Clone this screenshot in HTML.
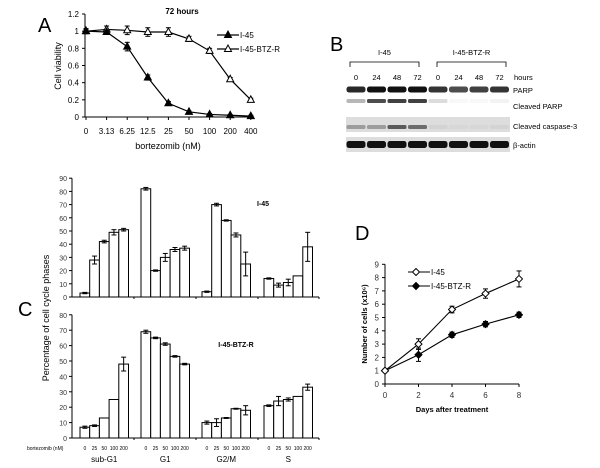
<!DOCTYPE html>
<html><head><meta charset="utf-8"><style>
html,body{margin:0;padding:0;background:#fff;}
svg{display:block;font-family:"Liberation Sans",Arial,sans-serif;}
</style></head><body>
<svg id="fig" width="600" height="468" viewBox="0 0 600 468">
<g id="A"></g>
<g id="B"></g>
<g id="C"></g>
<g id="D"></g>
</svg>
<script>
// Panel A data
const aCats = ["0","3.13","6.25","12.5","25","50","100","200","400"];
const aI45 = [1,0.99,0.82,0.46,0.16,0.06,0.03,0.02,0.01];
const aI45Err = [0.02,0.02,0.05,0.03,0.02,0.01,0.01,0.01,0.01];
const aBTZ = [1,1.02,1.01,0.99,0.99,0.91,0.77,0.44,0.2];
const aBTZErr = [0.03,0.04,0.05,0.05,0.05,0.03,0.03,0.02,0.02];
const aTicks = ["0","0.2","0.4","0.6","0.8","1","1.2"];
// Panel C data
const cPhases = ["sub-G1","G1","G2/M","S"];
const cDoses = ["0","25","50","100","200"];
const cTopVals = [[3,28,42,49,51],[82,20,30,36,37],[4,70,58,47,25],[14,9,11,16,38]];
const cTopErr = [[0.5,3,1,2,1],[1,0.5,3,1.5,1.5],[0.5,1,0.5,1.5,9],[0.5,1.5,2.5,0,11]];
const cBotVals = [[7,8,13,25,48],[69,65,61,53,48],[10,10,13,19,18],[21,24,25,27,33]];
const cBotErr = [[0.7,0.5,0,0,4.5],[1,0.5,0.8,0.5,0.5],[1,2.5,0.3,0.3,3],[0.5,3,1,0,2]];
const cTopTicks = ["0","10","20","30","40","50","60","70","80","90"];
const cBotTicks = ["0","10","20","30","40","50","60","70","80"];
// Panel D data
const dDays = [0,2,4,6,8];
const dI45 = [1,3,5.6,6.8,7.9];
const dI45Err = [0.1,0.4,0.25,0.35,0.6];
const dBTZ = [1,2.2,3.7,4.5,5.2];
const dBTZErr = [0.1,0.5,0.2,0.2,0.2];
const dTicks = ["0","1","2","3","4","5","6","7","8","9"];

const NS="http://www.w3.org/2000/svg";
function el(p,t,a,txt){const e=document.createElementNS(NS,t);for(const k in a)e.setAttribute(k,a[k]);if(txt!==undefined)e.textContent=txt;p.appendChild(e);return e;}

// ---------- Panel A ----------
(function(){
const g=document.getElementById('A');
const x0=86,dx=20.6,yb=117,yt=14;
const X=i=>x0+i*dx, Y=v=>yb-(v/1.2)*(yb-yt);
let t=el(g,'text',{x:38,y:32,'font-size':20},'A');


el(g,'line',{x1:85,y1:yt,x2:85,y2:yb,stroke:'#000'});
el(g,'line',{x1:85,y1:yb,x2:254,y2:yb,stroke:'#000'});
aTicks.forEach((s,i)=>{const y=Y(+s);el(g,'line',{x1:82,y1:y,x2:85,y2:y,stroke:'#000'});
 t=el(g,'text',{x:79,y:y+3,'font-size':8,'text-anchor':'end'},s);
 
 });
aCats.forEach((s,i)=>{el(g,'line',{x1:X(i),y1:yb,x2:X(i),y2:yb+3,stroke:'#000'});
 t=el(g,'text',{x:X(i),y:134,'font-size':8,'text-anchor':'middle'},s);
 
 });
t=el(g,'text',{x:168,y:149,'font-size':9,'text-anchor':'middle'},'bortezomib (nM)');


t=el(g,'text',{x:61,y:66,'font-size':9,'text-anchor':'middle',transform:'rotate(-90 61 66)'},'Cell viability');


t=el(g,'text',{x:182,y:14,'font-size':8,'font-weight':'bold','text-anchor':'middle'},'72 hours');


function series(vals,errs,filled,name){
 el(g,'polyline',{points:vals.map((v,i)=>X(i)+','+Y(v)).join(' '),fill:'none',stroke:'#000','stroke-width':1.2});
 vals.forEach((v,i)=>{const x=X(i);
  el(g,'line',{x1:x,y1:Y(v+errs[i]),x2:x,y2:Y(v-errs[i]),stroke:'#000'});
  el(g,'line',{x1:x-2.5,y1:Y(v+errs[i]),x2:x+2.5,y2:Y(v+errs[i]),stroke:'#000'});
  el(g,'line',{x1:x-2.5,y1:Y(v-errs[i]),x2:x+2.5,y2:Y(v-errs[i]),stroke:'#000'});
  const p=el(g,'polygon',{points:`${x},${Y(v)-4} ${x-3.5},${Y(v)+2.5} ${x+3.5},${Y(v)+2.5}`,fill:filled?'#000':'#fff',stroke:'#000'});
  
  });
}
series(aBTZ,aBTZErr,false,'i45-btzr');
series(aI45,aI45Err,true,'i45');
[[35,true,'I-45'],[49,false,'I-45-BTZ-R']].forEach(([y,f,s])=>{
 el(g,'line',{x1:217,y1:y,x2:239,y2:y,stroke:'#000','stroke-width':1.2});
 el(g,'polygon',{points:`228,${y-4} 224.5,${y+2.5} 231.5,${y+2.5}`,fill:f?'#000':'#fff',stroke:'#000'});
 t=el(g,'text',{x:240,y:y+3,'font-size':8},s);
 
 });
})();

// ---------- Panel B ----------
(function(){
const g=document.getElementById('B');
let t=el(g,'text',{x:330,y:51,'font-size':20},'B');


[[350,419,'I-45'],[437,506,'I-45-BTZ-R']].forEach(([a,b,s])=>{
 el(g,'path',{d:`M${a},67 V62 H${b} V67`,fill:'none',stroke:'#000','stroke-width':0.8});
 t=el(g,'text',{x:(a+b)/2,y:55,'font-size':7.5,'text-anchor':'middle'},s);
 
 });
const lanes=[356,376.5,397,417.5,438,458.5,479,499.5];
const hrs=["0","24","48","72","0","24","48","72"];
lanes.forEach((x,i)=>{t=el(g,'text',{x:x,y:80,'font-size':7.5,'text-anchor':'middle'},hrs[i]);
 
 });
t=el(g,'text',{x:514,y:80,'font-size':7.5},'hours');


el(g,'rect',{x:346,y:117,width:164,height:15,fill:'#ddd'});
el(g,'rect',{x:346,y:137,width:164,height:15,fill:'#ddd'});
const parp=[0.9,1,1,1,0.85,0.75,0.8,0.85];
const cparp=[0.3,0.75,0.8,0.8,0.15,0.03,0.03,0.05];
const casp=[0.35,0.35,0.7,0.6,0.05,0.03,0.03,0.05];
lanes.forEach((x,i)=>{
 el(g,'rect',{x:x-9.5,y:86.5,width:19,height:6,rx:2.5,fill:'#111','fill-opacity':parp[i]});
 el(g,'rect',{x:x-9.5,y:99,width:19,height:4,rx:1.5,fill:'#111','fill-opacity':cparp[i]});
 el(g,'rect',{x:x-9.5,y:125,width:19,height:4,rx:1.5,fill:'#222','fill-opacity':casp[i]});
 el(g,'rect',{x:x-9.5,y:141,width:19,height:7,rx:2.5,fill:'#111'});
});
[['PARP',93],['Cleaved PARP',109],['Cleaved caspase-3',129],['β-actin',148]].forEach(([s,y])=>{
 t=el(g,'text',{x:513,y:y,'font-size':7.5},s);
 
 });
})();

// ---------- Panel C ----------
(function(){
const g=document.getElementById('C');
let t=el(g,'text',{x:18,y:316,'font-size':20},'C');


const bw=9.7, starts=[80,141,202,264];
function chart(vals,errs,ticks,yb,unit,label,lx,ly,nm){
 const Y=v=>yb-v*unit;
 const top=Y(+ticks[ticks.length-1]);
 el(g,'line',{x1:72,y1:top,x2:72,y2:yb,stroke:'#000'});
 el(g,'line',{x1:72,y1:yb,x2:319,y2:yb,stroke:'#000'});
 ticks.forEach(s=>{const y=Y(+s);el(g,'line',{x1:69,y1:y,x2:72,y2:y,stroke:'#000'});
  t=el(g,'text',{x:67,y:y+3,'font-size':7,'text-anchor':'end',fill:'#333'},s);
  
  });
 [134,196,258,319].forEach(x=>el(g,'line',{x1:x,y1:yb,x2:x,y2:yb+2,stroke:'#000'}));
 vals.forEach((grp,gi)=>grp.forEach((v,i)=>{
  const x=starts[gi]+i*bw;
  const r=el(g,'rect',{x:x,y:Y(v),width:bw,height:v*unit,fill:'#fff',stroke:'#000','stroke-width':1});
  
  
  const e=errs[gi][i];
  if(e>0){const cx=x+bw/2;
   el(g,'line',{x1:cx,y1:Y(v+e),x2:cx,y2:Y(v-e),stroke:'#000'});
   el(g,'line',{x1:cx-2.5,y1:Y(v+e),x2:cx+2.5,y2:Y(v+e),stroke:'#000'});
   el(g,'line',{x1:cx-2.5,y1:Y(v-e),x2:cx+2.5,y2:Y(v-e),stroke:'#000'});}
 }));
 t=el(g,'text',{x:lx,y:ly,'font-size':7,'font-weight':'bold','text-anchor':'middle'},label);
 
 
}
chart(cTopVals,cTopErr,cTopTicks,297,1.32,'I-45',263,206,'i45');
chart(cBotVals,cBotErr,cBotTicks,438,1.54,'I-45-BTZ-R',236,347,'i45-btzr');
t=el(g,'text',{x:49,y:318,'font-size':9,'text-anchor':'middle',transform:'rotate(-90 49 318)'},'Percentage of cell cycle phases');


t=el(g,'text',{x:27,y:450,'font-size':5}, 'bortezomib (nM)');


starts.forEach((s,gi)=>{
 cDoses.forEach((d,i)=>{t=el(g,'text',{x:s+i*bw+bw/2,y:450,'font-size':5,'text-anchor':'middle'},d);
  
  });
 t=el(g,'text',{x:s+2.5*bw,y:462,'font-size':8,'text-anchor':'middle'},cPhases[gi]);
 
 
});
})();

// ---------- Panel D ----------
(function(){
const g=document.getElementById('D');
let t=el(g,'text',{x:355,y:240,'font-size':20},'D');


const X=d=>385+d*16.75, Y=v=>384-v*13.3;
el(g,'line',{x1:385,y1:Y(9),x2:385,y2:384,stroke:'#000'});
el(g,'line',{x1:385,y1:384,x2:519,y2:384,stroke:'#000'});
dTicks.forEach(s=>{const y=Y(+s);el(g,'line',{x1:382,y1:y,x2:385,y2:y,stroke:'#000'});
 t=el(g,'text',{x:379,y:y+3,'font-size':8,'text-anchor':'end',fill:'#333'},s);
 
 });
dDays.forEach(d=>{el(g,'line',{x1:X(d),y1:384,x2:X(d),y2:387,stroke:'#000'});
 t=el(g,'text',{x:X(d),y:398,'font-size':8,'text-anchor':'middle',fill:'#333'},String(d));
 
 });
t=el(g,'text',{x:452,y:412,'font-size':7.5,'font-weight':'bold','text-anchor':'middle'},'Days after treatment');


t=el(g,'text',{x:367,y:324,'font-size':7.5,'font-weight':'bold','text-anchor':'middle',transform:'rotate(-90 367 324)'},'Number of cells (x10⁶)');


function series(vals,errs,filled,nm){
 el(g,'polyline',{points:vals.map((v,i)=>X(dDays[i])+','+Y(v)).join(' '),fill:'none',stroke:'#000','stroke-width':1.1});
 vals.forEach((v,i)=>{const x=X(dDays[i]),e=errs[i];
  el(g,'line',{x1:x,y1:Y(v+e),x2:x,y2:Y(v-e),stroke:'#000'});
  el(g,'line',{x1:x-2.5,y1:Y(v+e),x2:x+2.5,y2:Y(v+e),stroke:'#000'});
  el(g,'line',{x1:x-2.5,y1:Y(v-e),x2:x+2.5,y2:Y(v-e),stroke:'#000'});
  const y=Y(v);
  const p=el(g,'polygon',{points:`${x},${y-3.5} ${x+3.5},${y} ${x},${y+3.5} ${x-3.5},${y}`,fill:filled?'#000':'#fff',stroke:'#000'});
  
  });
}
series(dBTZ,dBTZErr,true,'i45-btzr');
series(dI45,dI45Err,false,'i45');
[[272,false,'I-45'],[286,true,'I-45-BTZ-R']].forEach(([y,f,s])=>{
 el(g,'line',{x1:408,y1:y,x2:430,y2:y,stroke:'#000'});
 el(g,'polygon',{points:`416,${y-3.5} 419.5,${y} 416,${y+3.5} 412.5,${y}`,fill:f?'#000':'#fff',stroke:'#000'});
 t=el(g,'text',{x:431,y:y+3,'font-size':8},s);
 
 });
})();
</script>
</body></html>
